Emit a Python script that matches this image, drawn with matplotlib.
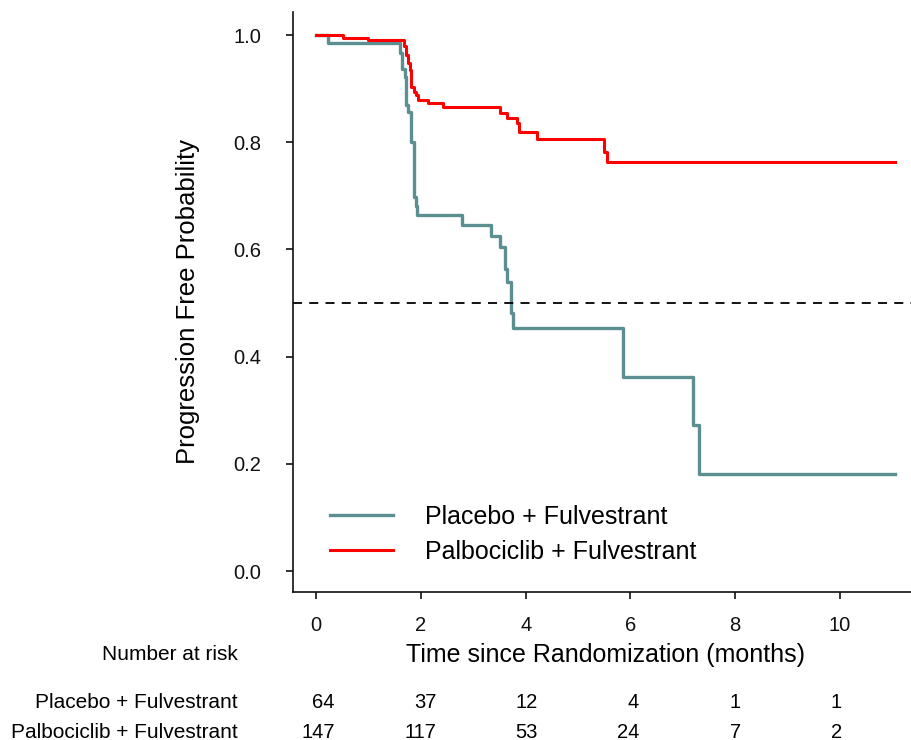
import matplotlib
matplotlib.use("Agg")
import matplotlib.pyplot as plt

plt.rcParams['font.family'] = ['Liberation Sans', 'DejaVu Sans']

# Kaplan-Meier step points: time (months) where survival drops to the given level
placebo_time = [0, 0.22, 1.60, 1.64, 1.69, 1.72, 1.76, 1.81, 1.87, 1.90, 1.93,
                2.79, 3.34, 3.52, 3.61, 3.65, 3.73, 3.75, 5.85, 7.19, 7.31]
placebo_surv = [1.0, 0.985, 0.966, 0.936, 0.921, 0.869, 0.856, 0.801, 0.698, 0.681, 0.665,
                0.646, 0.625, 0.604, 0.563, 0.539, 0.481, 0.454, 0.363, 0.272, 0.181]

palbo_time = [0, 0.52, 1.00, 1.67, 1.72, 1.76, 1.79, 1.81, 1.86, 1.91, 1.95,
              2.14, 2.43, 3.52, 3.64, 3.84, 3.88, 4.22, 5.50, 5.56]
palbo_surv = [1.0, 0.995, 0.990, 0.979, 0.963, 0.947, 0.935, 0.904, 0.894, 0.888, 0.879,
              0.874, 0.866, 0.855, 0.846, 0.835, 0.820, 0.806, 0.782, 0.763]

last_followup = 11.05

groups = ['Placebo + Fulvestrant', 'Palbociclib + Fulvestrant']
risk_times = [0, 2, 4, 6, 8, 10]
risk_placebo = [64, 37, 12, 4, 1, 1]
risk_palbo = [147, 117, 53, 24, 7, 2]

teal = '#5B8F92'
red = '#FF0000'

W, H = 911, 740
fig = plt.figure(figsize=(W / 100, H / 100), dpi=100)

ax = fig.add_axes([293 / W, 1 - 592 / H, 618 / W, 580 / H])

ax.step(placebo_time + [last_followup], placebo_surv + [placebo_surv[-1]],
        where='post', color=teal, lw=2.4, label=groups[0])
ax.step(palbo_time + [last_followup], palbo_surv + [palbo_surv[-1]],
        where='post', color=red, lw=2.2, label=groups[1])
ax.axhline(0.5, color='black', lw=1.3, ls=(0, (5, 4)))

ax.set_xlim(-0.44, 11.355)
ax.set_ylim(-0.039, 1.043)
ax.set_xticks(risk_times)
ax.set_yticks([0.0, 0.2, 0.4, 0.6, 0.8, 1.0])
ax.set_yticklabels(['0.0', '0.2', '0.4', '0.6', '0.8', '1.0'])

for side in ('top', 'right'):
    ax.spines[side].set_visible(False)
for side in ('left', 'bottom'):
    ax.spines[side].set_linewidth(1.2)
    ax.spines[side].set_color('#111111')

ax.tick_params(axis='both', direction='out', length=5, width=1.2, colors='#111111',
               labelsize=14.5)
ax.tick_params(axis='x', pad=12)
ax.tick_params(axis='y', pad=18)

ax.set_ylabel('Progression Free Probability', fontsize=18.5, va='center')
ax.yaxis.set_label_coords(-0.170, 0.5)
ax.set_xlabel('Time since Randomization (months)', fontsize=18, va='center')
ax.xaxis.set_label_coords(0.5057, -0.1086)

ax.legend(loc='center left', bbox_to_anchor=(0.0599, 0.099), frameon=False,
          fontsize=18, handlelength=2.52, handletextpad=1.28, labelspacing=0.45,
          borderpad=0, borderaxespad=0)

# number-at-risk table underneath the x axis
tab = fig.add_axes([293 / W, 0, 618 / W, 148 / H])
tab.set_xlim(-0.828, 11.36)
tab.set_ylim(H, H - 148)
tab.axis('off')

fig.text(238 / W, 1 - 655 / H, 'Number at risk', ha='right', va='center', fontsize=15)
for row_y, name, counts in ((702, groups[0], risk_placebo), (732, groups[1], risk_palbo)):
    fig.text(238 / W, 1 - row_y / H, name, ha='right', va='center', fontsize=15)
    for t, n in zip(risk_times, counts):
        tab.text(t, row_y, str(n), ha='right', va='center', fontsize=14.5)

fig.savefig('out.png', dpi=100)
